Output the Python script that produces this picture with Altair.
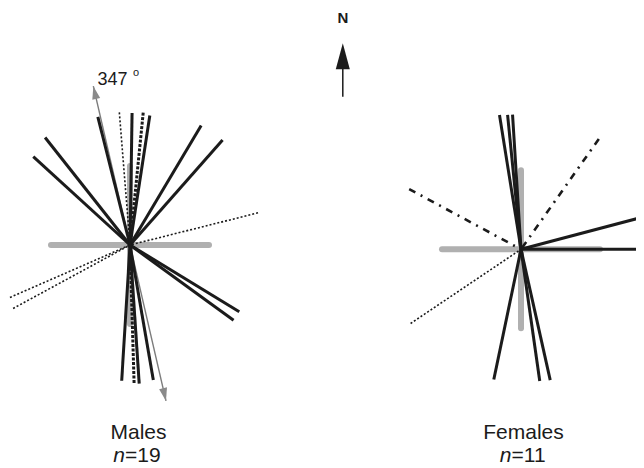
import altair as alt
import pandas as pd
import numpy as np

# ---------------- data (bearings in degrees clockwise from north, lengths in px) ----------------
males_bearing = [345.9, 355.4, 0.9, 5.7, 8.7, 30.8, 41.4, 321.7, 312.4, 75.9,
                 246.4, 241.5, 183.5, 178.3, 176.2, 170.2, 121.4, 126.0]
males_length = [132, 133, 132, 133, 131, 139, 140, 137, 131, 132,
                131, 133, 136, 138, 139, 137, 128, 128]
males_style = ["solid", "dotted", "solid", "dashed", "solid", "solid", "solid", "solid", "solid", "dotted",
               "dotted", "dotted", "solid", "dashed", "solid", "solid", "solid", "solid"]

females_bearing = [350.9, 354.3, 356.4, 191.8, 171.9, 167.4, 35.2, 298.3, 236.1, 75.2, 90.0]
females_length = [136, 135, 135, 133, 133, 134, 135, 127, 133, 140, 140]
females_style = ["solid", "solid", "solid", "solid", "solid", "solid",
                 "dashdot", "dashdot", "dotted", "solid", "solid"]

cross_bearing = [0, 90, 180, 270]
cross_length = [79, 79, 79, 79]

males_mean_bearing = [347, 167]
males_mean_length = [163, 160]

panel_names = ["Males", "Females"]
panel_n = ["19", "11"]
mean_label = "347"

# ---------------- layout ----------------
W, H = 628, 452
centers = {"Males": (130.0, 245.0), "Females": (521.0, 249.3)}
title_x = {"Males": 138.5, "Females": 523.5}
n_split = {"Males": 125.0, "Females": 511.5}


def rays(panel, bearings, lengths, styles=None):
    cx, cy = centers[panel]
    b = np.radians(np.array(bearings, dtype=float))
    L = np.array(lengths, dtype=float)
    df = pd.DataFrame({
        "panel": panel,
        "bearing": bearings,
        "x": cx + L * np.sin(b),
        "y": cy - L * np.cos(b),
        "x2": cx,
        "y2": cy,
    })
    df["style"] = styles if styles is not None else "cross"
    return df


ray_df = pd.concat([rays("Males", males_bearing, males_length, males_style),
                    rays("Females", females_bearing, females_length, females_style)],
                   ignore_index=True)
cross_df = pd.concat([rays("Males", cross_bearing, cross_length),
                      rays("Females", cross_bearing, cross_length)], ignore_index=True)
mean_df = rays("Males", males_mean_bearing, males_mean_length)
head_df = rays("Males", males_mean_bearing, [L - 6.5 for L in males_mean_length])

xs = alt.Scale(domain=[8, 8 + W], range=[0, W], nice=False, zero=False)
ys = alt.Scale(domain=[8, 8 + H], range=[0, H], nice=False, zero=False)


def X(f):
    return alt.X(f"{f}:Q", scale=xs, axis=None)


def Y(f):
    return alt.Y(f"{f}:Q", scale=ys, axis=None)


def rule_layer(df, **kw):
    return alt.Chart(df).mark_rule(**kw).encode(x=X("x"), y=Y("y"), x2="x2:Q", y2="y2:Q")


INK = "#1b1b1b"
layers = []
layers.append(rule_layer(cross_df, color="#b0b0b0", strokeWidth=6, strokeCap="round"))
layers.append(rule_layer(mean_df, color="#7c7c7c", strokeWidth=1.4))
layers.append(alt.Chart(head_df).mark_point(
    shape="M0,-1L0.62,1L-0.62,1Z", filled=True, color="#8a8a8a", size=169, opacity=1, strokeWidth=0
).encode(x=X("x"), y=Y("y"), angle=alt.Angle("bearing:Q", scale=None)))

styles = {
    "solid": dict(color=INK, strokeWidth=3),
    "dotted": dict(color=INK, strokeWidth=1.6, strokeDash=[2, 2]),
    "dashed": dict(color=INK, strokeWidth=3, strokeDash=[3, 1.5]),
    "dashdot": dict(color=INK, strokeWidth=2.6, strokeDash=[7, 6, 2, 6]),
}
for s, kw in styles.items():
    sub = ray_df[ray_df["style"] == s]
    layers.append(rule_layer(sub, **kw))

# north arrow
north_df = pd.DataFrame({"x": [342.8], "y": [56.3], "x2": [342.8], "ytail": [96.7], "yhead": [69.0],
                         "label": ["N"], "ylab": [23.3]})
layers.append(alt.Chart(north_df).mark_rule(color=INK, strokeWidth=1.5).encode(
    x=X("x"), y=Y("yhead"), y2="ytail:Q"))
layers.append(alt.Chart(north_df).mark_point(
    shape="M0,-1L0.54,1L-0.54,1Z", filled=True, color=INK, size=676, opacity=1, strokeWidth=0
).encode(x=X("x"), y=Y("y")))
layers.append(alt.Chart(north_df).mark_text(
    font="Liberation Sans", fontSize=15, fontWeight="bold", color=INK, align="center", baseline="alphabetic"
).encode(x=X("x"), y=Y("ylab"), text="label:N"))

# mean label
lab_df = pd.DataFrame({"x": [97.5], "y": [84.5], "t": [mean_label], "xo": [133.0], "yo": [76.0], "o": ["o"]})
layers.append(alt.Chart(lab_df).mark_text(
    font="Liberation Sans", fontSize=18, color=INK, align="left", baseline="alphabetic"
).encode(x=X("x"), y=Y("y"), text="t:N"))
layers.append(alt.Chart(lab_df).mark_text(
    font="Liberation Sans", fontSize=11, color=INK, align="left", baseline="alphabetic"
).encode(x=X("xo"), y=Y("yo"), text="o:N"))

# panel titles
title_df = pd.DataFrame({
    "name": panel_names,
    "x": [title_x[p] for p in panel_names],
    "y": [439.0, 439.0],
    "xs": [n_split[p] for p in panel_names],
    "yn": [462.0, 462.0],
    "n": ["n"] * 2,
    "rest": ["=" + v for v in panel_n],
})
layers.append(alt.Chart(title_df).mark_text(
    font="Liberation Sans", fontSize=21, color=INK, align="center", baseline="alphabetic"
).encode(x=X("x"), y=Y("y"), text="name:N"))
layers.append(alt.Chart(title_df).mark_text(
    font="Liberation Sans", fontSize=21, fontStyle="italic", color=INK, align="right", baseline="alphabetic"
).encode(x=X("xs"), y=Y("yn"), text="n:N"))
layers.append(alt.Chart(title_df).mark_text(
    font="Liberation Sans", fontSize=21, color=INK, align="left", baseline="alphabetic"
).encode(x=X("xs"), y=Y("yn"), text="rest:N"))

chart = alt.layer(*layers).properties(
    width=W, height=H, autosize="none",
    padding={"left": 0, "top": 0, "right": 0, "bottom": 8},
    background="white",
).configure_view(stroke=None)

chart.save("out.html", embed_options={"renderer": "svg", "actions": False})
